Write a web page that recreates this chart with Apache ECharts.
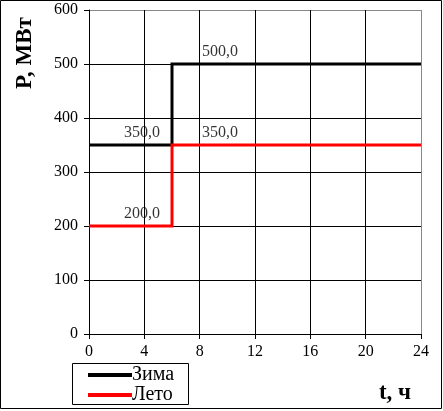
<!DOCTYPE html>
<html>
<head>
<meta charset="utf-8">
<script src="https://cdn.jsdelivr.net/npm/echarts@6/dist/echarts.min.js"></script>
<style>
html,body{margin:0;padding:0;background:#fff;}
#c{width:443px;height:411px;}
</style>
</head>
<body>
<div id="c"></div>
<script>
// Data
const xTicks = [0, 4, 8, 12, 16, 20, 24];
const yTicks = [0, 100, 200, 300, 400, 500, 600];
const winterT = [0, 6, 6, 24];
const winterP = [350, 350, 500, 500];
const summerT = [0, 6, 6, 24];
const summerP = [200, 200, 350, 350];
const winterLabelT = [3.83, 9.47];
const winterLabelP = [350, 500];
const summerLabelT = [3.83, 9.47];
const summerLabelP = [200, 350];
const seriesNames = ['Зима', 'Лето'];

const font = 'Liberation Serif, Times New Roman, serif';
const zip = (a, b) => a.map((v, i) => [v, b[i]]);
const fmt = v => v.toFixed(1).replace('.', ',');

const chart = echarts.init(document.getElementById('c'), null, {renderer: 'canvas'});

const labelSeries = (t, p) => ({
  type: 'scatter',
  data: zip(t, p),
  symbolSize: 1,
  itemStyle: {color: 'rgba(0,0,0,0)'},
  silent: true,
  z: 5,
  label: {
    show: true,
    position: 'top',
    distance: 4,
    formatter: d => fmt(d.value[1]),
    color: '#000',
    fontFamily: font,
    fontSize: 16
  }
});

const gridColors = ['#000', '#000', '#000', '#000', '#000', '#000', '#888'];

chart.setOption({
  animation: false,
  backgroundColor: '#fff',
  grid: {left: 89, right: 22, top: 10, bottom: 77, containLabel: false},
  xAxis: {
    type: 'value',
    min: xTicks[0],
    max: xTicks[xTicks.length - 1],
    interval: xTicks[1] - xTicks[0],
    axisLine: {show: true, lineStyle: {color: '#000', width: 1}},
    axisTick: {show: true, inside: false, length: 5, lineStyle: {color: '#000'}},
    axisLabel: {color: '#000', fontFamily: font, fontSize: 16, margin: 10},
    splitLine: {show: true, lineStyle: {color: gridColors, width: 1}}
  },
  yAxis: {
    type: 'value',
    min: yTicks[0],
    max: yTicks[yTicks.length - 1],
    interval: yTicks[1] - yTicks[0],
    axisLine: {show: true, lineStyle: {color: '#000', width: 1}},
    axisTick: {show: true, inside: false, length: 5, lineStyle: {color: '#000'}},
    axisLabel: {color: '#000', fontFamily: font, fontSize: 16, margin: 11},
    splitLine: {show: true, lineStyle: {color: gridColors, width: 1}}
  },
  legend: {
    data: seriesNames,
    orient: 'vertical',
    left: 88,
    top: 365,
    padding: 0,
    itemGap: 0,
    itemWidth: 44,
    itemHeight: 4,
    icon: 'rect',
    textStyle: {color: '#000', fontFamily: font, fontSize: 20, padding: [0, 0, 0, -5]}
  },
  graphic: [
    {type: 'rect', shape: {x: 0.5, y: 0.5, width: 441, height: 408}, style: {fill: 'none', stroke: '#000', lineWidth: 1}, silent: true, z: 100},
    {type: 'rect', shape: {x: 72.5, y: 363.5, width: 116, height: 41}, style: {fill: 'none', stroke: '#000', lineWidth: 1}, silent: true, z: 100},
    {type: 'text', x: 25, y: 53, rotation: Math.PI / 2, style: {text: 'P, МВт', font: 'bold 23px ' + font, fill: '#000', textAlign: 'center', textVerticalAlign: 'middle'}},
    {type: 'text', x: 395, y: 393, style: {text: 't, ч', font: 'bold 23px ' + font, fill: '#000', textAlign: 'center', textVerticalAlign: 'middle'}}
  ],
  series: [
    {
      name: seriesNames[0],
      type: 'line',
      data: zip(winterT, winterP),
      symbol: 'none',
      lineStyle: {color: '#000', width: 3, join: 'miter'},
      itemStyle: {color: '#000'},
      z: 3
    },
    {
      name: seriesNames[1],
      type: 'line',
      data: zip(summerT, summerP),
      symbol: 'none',
      lineStyle: {color: '#ff0000', width: 3, join: 'miter'},
      itemStyle: {color: '#ff0000'},
      z: 4
    },
    labelSeries(winterLabelT, winterLabelP),
    labelSeries(summerLabelT, summerLabelP)
  ]
});
</script>
</body>
</html>
